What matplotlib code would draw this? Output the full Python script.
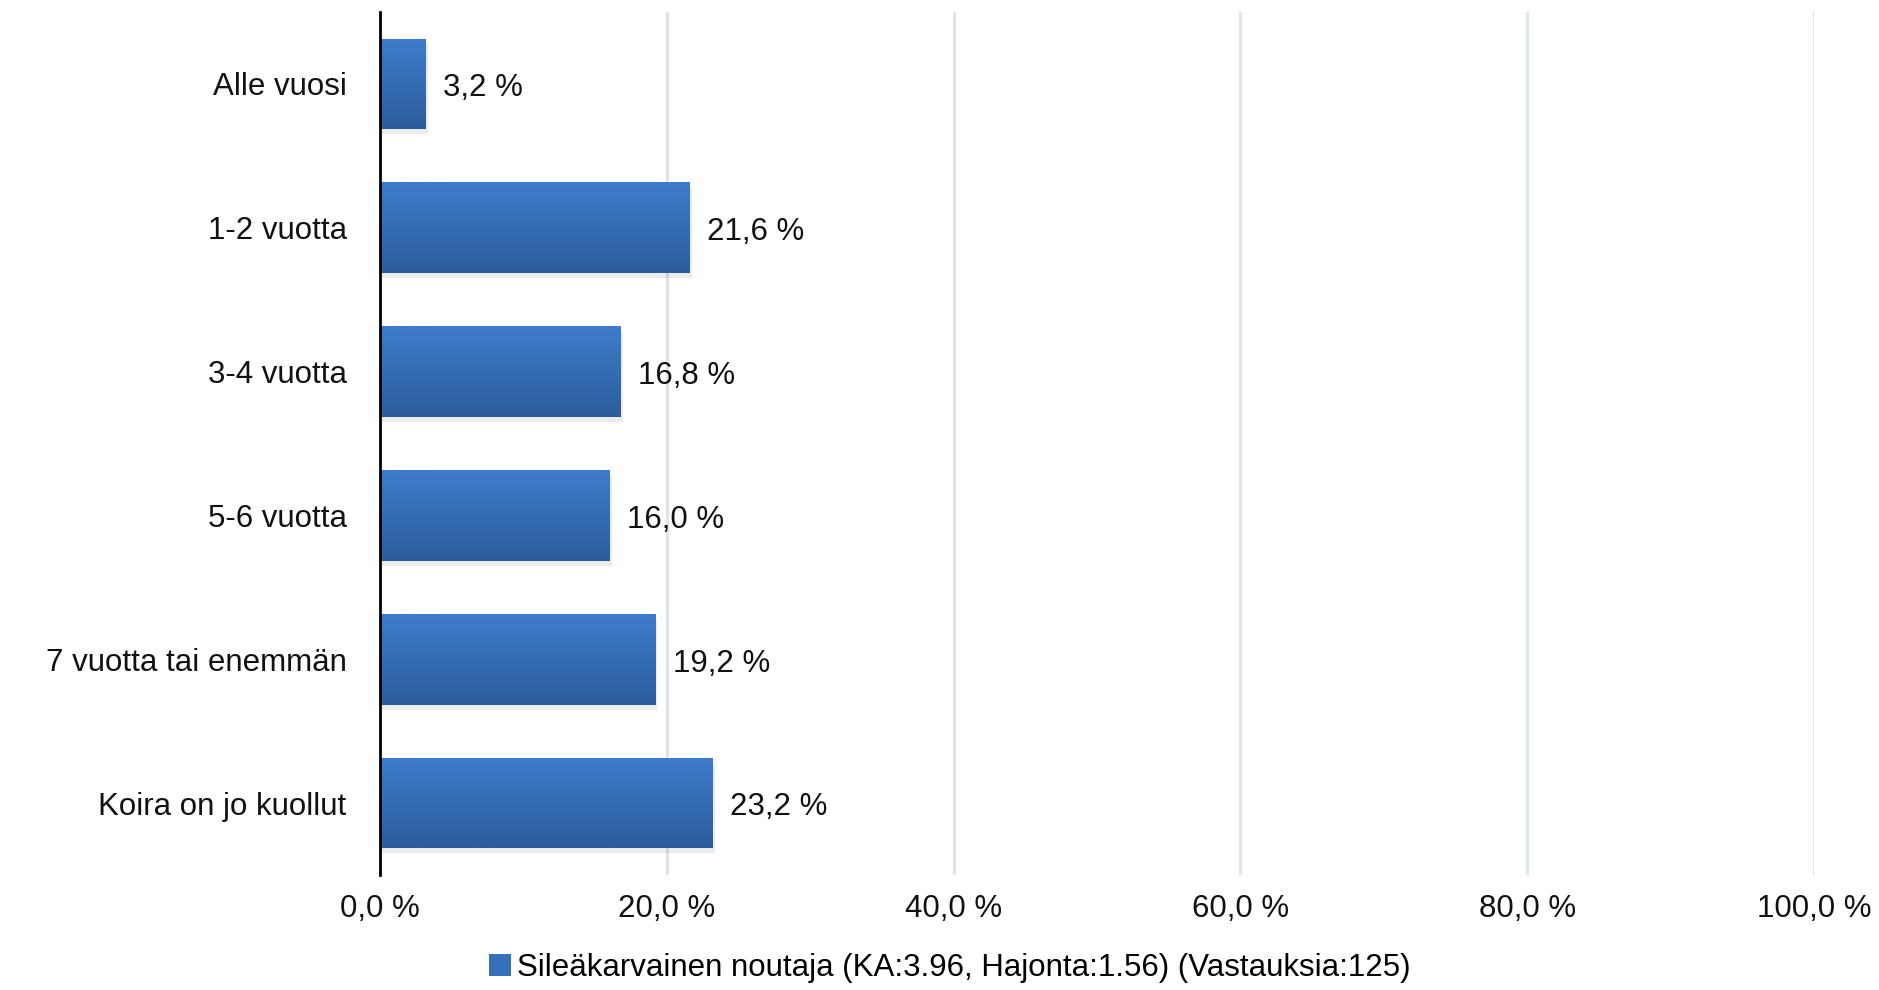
import matplotlib
matplotlib.use("Agg")
import matplotlib.pyplot as plt
import numpy as np
from matplotlib.colors import LinearSegmentedColormap
from matplotlib.patches import Rectangle

categories = ["Alle vuosi", "1-2 vuotta", "3-4 vuotta", "5-6 vuotta",
              "7 vuotta tai enemmän", "Koira on jo kuollut"]
values = [3.2, 21.6, 16.8, 16.0, 19.2, 23.2]
xticks = [0, 20, 40, 60, 80, 100]
xtick_labels = ["0,0 %", "20,0 %", "40,0 %", "60,0 %", "80,0 %", "100,0 %"]
legend_label = "Sileäkarvainen noutaja (KA:3.96, Hajonta:1.56) (Vastauksia:125)"

plt.rcParams['font.family'] = ['Liberation Sans', 'DejaVu Sans']
FS = 22.5

fig = plt.figure(figsize=(18.79, 9.90), dpi=100)
ax = fig.add_axes([380/1879, 1 - 875/990, (1814 - 380)/1879, (875 - 12)/990])

y = np.arange(len(categories))
bar_h = 0.63
cmap = LinearSegmentedColormap.from_list("g", ["#3d7ccc", "#2c5d9c"])
grad = np.linspace(0, 1, 64).reshape(-1, 1)

for yi, v in zip(y, values):
    # soft shadow below bar
    sh = Rectangle((0.1, yi - bar_h/2 + 0.035), v + 0.05, bar_h, facecolor="#000000",
                   alpha=0.08, edgecolor="none", zorder=2)
    ax.add_patch(sh)
    bars = ax.barh(yi, v, height=bar_h, color="#3570b8", edgecolor="none", zorder=3)
    im = ax.imshow(grad, cmap=cmap, aspect="auto",
                   extent=[0, v, yi + bar_h/2, yi - bar_h/2], zorder=4)
    im.set_clip_path(bars[0])
    ax.text(v + 1.2, yi + 0.03, f"{v:.1f} %".replace(".", ","), va="center", ha="left",
            fontsize=FS, color="#111111", zorder=5)

ax.set_xlim(0, 100)
ax.set_ylim(len(categories) - 0.5, -0.5)
ax.set_yticks(y)
ax.set_yticklabels(categories, fontsize=FS)
ax.set_xticks(xticks)
ax.set_xticklabels(xtick_labels, fontsize=FS)
ax.tick_params(axis="both", length=0, pad=24, colors="#111111")
ax.tick_params(axis="x", pad=14)
ax.grid(axis="x", color="#dde4ec", linewidth=2.2, zorder=0)
ax.set_axisbelow(True)
for s in ["top", "right", "bottom"]:
    ax.spines[s].set_visible(False)
ax.spines["left"].set_linewidth(2)
ax.spines["left"].set_color("#000000")
ax.spines["left"].set_zorder(6)

handle = Rectangle((0, 0), 1, 1, facecolor="#3570b8", edgecolor="none")
fig.legend([handle], [legend_label], loc="center", bbox_to_anchor=(950/1879, 1 - 968/990),
           frameon=False, fontsize=FS, handlelength=0.7, handleheight=0.7,
           handletextpad=0.2)

fig.savefig("out.png", dpi=100)
